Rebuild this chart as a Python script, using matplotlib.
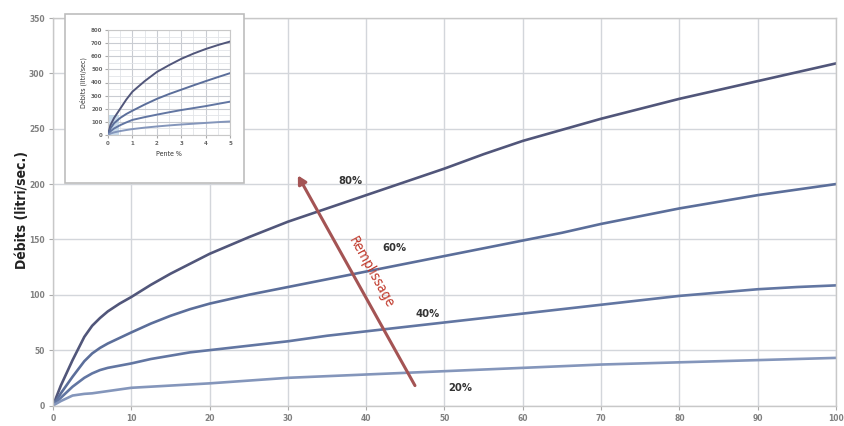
import matplotlib
matplotlib.use("Agg")
import matplotlib.pyplot as plt
from matplotlib.patches import Rectangle, FancyArrowPatch

# ---- data (main chart) ----
x_main = [0, 1, 2.5, 4, 5, 6, 7, 8.5, 10, 12.5, 15, 17.5, 20, 25, 30, 35, 40, 45, 50,
          55, 60, 65, 70, 75, 80, 85, 90, 95, 100]
q80 = [0, 18, 41, 62, 72, 79, 85, 92, 98, 109, 119, 128, 137, 152, 166, 178, 190, 202, 214,
       227, 239, 249, 259, 268, 277, 285, 293, 301, 309]
q60 = [0, 11, 26, 40, 47, 52, 56, 61, 66, 74, 81, 87, 92, 100, 107, 114, 121, 128, 135,
       142, 149, 156, 164, 171, 178, 184, 190, 195, 200]
q40 = [0, 7, 17, 25, 29, 32, 34, 36, 38, 42, 45, 48, 50, 54, 58, 63, 67, 71, 75,
       79, 83, 87, 91, 95, 99, 102, 105, 107, 108.5]
q20 = [0, 4, 9, 10.5, 11, 12, 13, 14.5, 16, 17, 18, 19, 20, 22.5, 25, 26.5, 28, 29.5, 31,
       32.5, 34, 35.5, 37, 38, 39, 40, 41, 42, 43]
series_labels = ["80%", "60%", "40%", "20%"]
x_ticks = [0, 10, 20, 30, 40, 50, 60, 70, 80, 90, 100]
y_ticks = [0, 50, 100, 150, 200, 250, 300, 350]

# ---- data (inset) ----
x_in = [0, 0.1, 0.25, 0.5, 0.75, 1, 1.5, 2, 2.5, 3, 3.5, 4, 4.5, 5]
i80 = [0, 75, 130, 200, 270, 330, 410, 480, 532, 580, 620, 655, 685, 712]
i60 = [0, 50, 90, 130, 160, 185, 232, 275, 312, 345, 378, 410, 441, 471]
i40 = [0, 28, 50, 75, 96, 115, 136, 155, 173, 190, 205, 220, 237, 254]
i20 = [0, 11, 20, 30, 38, 45, 56, 65, 73, 80, 86, 92, 98, 103]
x_in_ticks = [0, 1, 2, 3, 4, 5]
y_in_ticks = [0, 100, 200, 300, 400, 500, 600, 700, 800]

NARROW = ["Liberation Sans Narrow", "DejaVu Sans"]
colors = ["#51567a", "#5b6e9a", "#6276a2", "#8496bb"]
grid_c = "#d3d6db"

fig = plt.figure(figsize=(8.45, 4.26), dpi=100)
ax = fig.add_axes([53/845, 1-405.5/426, (836-53)/845, (405.5-18)/426])
ax.set_xlim(0, 100)
ax.set_ylim(0, 350)
ax.set_xticks(x_ticks)
ax.set_yticks(y_ticks)
ax.set_xticklabels([str(v) for v in x_ticks], fontsize=5.5, color="#808080", fontweight="bold")
ax.set_yticklabels([str(v) for v in y_ticks], fontsize=5.5, color="#808080", fontweight="bold")
ax.tick_params(length=3, color="#aaaaaa", pad=3)
ax.grid(True, color=grid_c, linewidth=1.0)
for s in ax.spines.values():
    s.set_color("#c8c8c8")
    s.set_linewidth(1.0)
ax.set_axisbelow(True)

for ys, c in zip([q80, q60, q40, q20], colors):
    ax.plot(x_main, ys, color=c, linewidth=1.9, solid_capstyle="round", solid_joinstyle="round")

label_pos = [(38, 203), (43.6, 142), (47.9, 83), (52, 16)]
for lab, (lx, ly) in zip(series_labels, label_pos):
    ax.text(lx, ly, lab, fontsize=8, fontweight="bold", color="#333333",
            ha="center", va="center", family="DejaVu Sans", fontstretch="condensed")

arr = FancyArrowPatch((46.4, 15.8), (31.1, 210), arrowstyle="-|>,head_length=4,head_width=2.2",
                      color="#a45454", linewidth=2.2, mutation_scale=1.2, zorder=5)
ax.add_patch(arr)
ax.text(40.6, 120, "Remplissage", rotation=-61, fontsize=10, color="#c0392b",
        ha="center", va="center", family="DejaVu Sans", fontstretch="condensed",
        rotation_mode="anchor", zorder=6)

fig.text(22/845, 1-210/426, "Débits (litri/sec.)", rotation=90, fontsize=10,
         color="#222222", ha="center", va="center", family="DejaVu Sans",
         fontstretch="condensed", fontweight="bold")

# ---- inset ----
frame = Rectangle((65/845, 1-183/426), 179/845, 169/426, transform=fig.transFigure,
                  facecolor="white", edgecolor="#bdbdbd", linewidth=1.2, zorder=3)
fig.patches.append(frame)

ia = fig.add_axes([108/845, 1-135/426, 122/845, 105/426], zorder=4)
ia.set_xlim(0, 5)
ia.set_ylim(0, 800)
ia.set_xticks(x_in_ticks)
ia.set_yticks(y_in_ticks)
ia.set_xticklabels([str(v) for v in x_in_ticks], fontsize=4, color="#666666", fontweight="bold")
ia.set_yticklabels([str(v) for v in y_in_ticks], fontsize=4, color="#666666", fontweight="bold")
ia.tick_params(length=2, color="#aaaaaa", pad=2)
ia.set_yticks([50, 150, 250, 350, 450, 550, 650, 750], minor=True)
ia.set_xticks([0.5, 1.5, 2.5, 3.5, 4.5], minor=True)
ia.tick_params(which="minor", length=0)
ia.grid(True, which="major", color="#c9ccd2", linewidth=0.8)
ia.grid(True, which="minor", color="#e2e4e8", linewidth=0.6)
ia.set_axisbelow(True)
for s in ia.spines.values():
    s.set_color("#c8c8c8")
    s.set_linewidth(0.8)
ia.add_patch(Rectangle((0, 0), 0.45, 150, facecolor="#bcd3e6", edgecolor="none", alpha=0.8, zorder=1))
for ys, c in zip([i80, i60, i40, i20], colors):
    ia.plot(x_in, ys, color=c, linewidth=1.4, zorder=3, solid_joinstyle="round")
ia.set_xlabel("Pente %", fontsize=5, color="#333333", family="DejaVu Sans",
              fontstretch="condensed", labelpad=4)
ia.set_ylabel("Débits (litri/sec)", fontsize=5, color="#333333", family="DejaVu Sans",
              fontstretch="condensed", labelpad=3)

fig.savefig("out.png", dpi=100)
